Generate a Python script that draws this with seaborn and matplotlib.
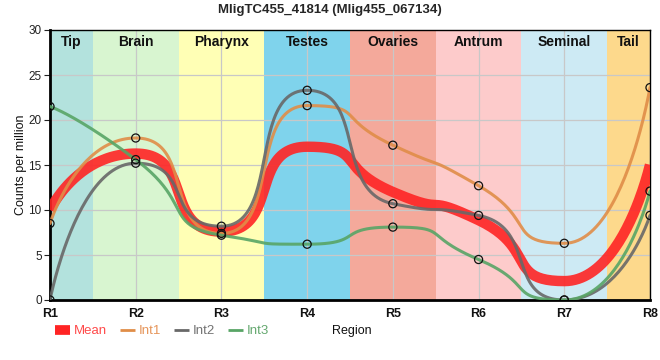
import numpy as np
import pandas as pd
import matplotlib
matplotlib.use("Agg")
import matplotlib.pyplot as plt
from matplotlib.lines import Line2D
import seaborn as sns

regions = ["R1", "R2", "R3", "R4", "R5", "R6", "R7", "R8"]
int1 = [8.5, 18.0, 7.4, 21.6, 17.2, 12.7, 6.3, 23.6]
int2 = [0.0, 15.2, 8.2, 23.3, 10.7, 9.4, 0.0, 9.4]
int3 = [21.5, 15.6, 7.2, 6.2, 8.1, 4.5, 0.0, 12.1]
mean = list(np.round((np.array(int1) + np.array(int2) + np.array(int3)) / 3, 2))

tissues = ["Tip", "Brain", "Pharynx", "Testes", "Ovaries", "Antrum", "Seminal", "Tail"]
tissue_colors = ["#b3e2dd", "#d8f5d0", "#ffffb5", "#7fd3ec", "#f4a99b", "#fdcbcb", "#cdeaf4", "#fdd98c"]

series_colors = {"Mean": "#ff2424", "Int1": "#e08d48", "Int2": "#686868", "Int3": "#58a566"}
legend_colors = {"Mean": "#ff4a4a", "Int1": "#e6955a", "Int2": "#737373", "Int3": "#64a86f"}


def spline_path(xs, ys, sm=0.45, n=50):
    # bezier spline, control points clamped so extremes stay flat
    xs = np.asarray(xs, float)
    ys = np.asarray(ys, float)
    k = len(xs)
    lc = [None] * k
    rc = [None] * k
    for i in range(1, k - 1):
        x, y = xs[i], ys[i]
        lx, ly = (sm * x + xs[i - 1]) / (sm + 1), (sm * y + ys[i - 1]) / (sm + 1)
        rx, ry = (sm * x + xs[i + 1]) / (sm + 1), (sm * y + ys[i + 1]) / (sm + 1)
        corr = (ry - ly) * (rx - x) / (rx - lx) + y - ry
        ly += corr
        ry += corr
        if ly > ys[i - 1] and ly > y:
            ly = max(ys[i - 1], y)
            ry = 2 * y - ly
        elif ly < ys[i - 1] and ly < y:
            ly = min(ys[i - 1], y)
            ry = 2 * y - ly
        if ry > ys[i + 1] and ry > y:
            ry = max(ys[i + 1], y)
            ly = 2 * y - ry
        elif ry < ys[i + 1] and ry < y:
            ry = min(ys[i + 1], y)
            ly = 2 * y - ry
        lc[i] = (lx, ly)
        rc[i] = (rx, ry)
    out_x, out_y = [], []
    for i in range(1, k):
        p0 = (xs[i - 1], ys[i - 1])
        p1 = rc[i - 1] if rc[i - 1] is not None else p0
        p3 = (xs[i], ys[i])
        p2 = lc[i] if lc[i] is not None else p3
        u = np.linspace(0, 1, n, endpoint=(i == k - 1))
        b0, b1, b2, b3 = (1 - u) ** 3, 3 * (1 - u) ** 2 * u, 3 * (1 - u) * u ** 2, u ** 3
        out_x.extend(b0 * p0[0] + b1 * p1[0] + b2 * p2[0] + b3 * p3[0])
        out_y.extend(b0 * p0[1] + b1 * p1[1] + b2 * p2[1] + b3 * p3[1])
    return np.array(out_x), np.array(out_y)


sns.set_theme(style="white")
plt.rcParams["font.family"] = ["Liberation Sans", "DejaVu Sans"]

fig = plt.figure(figsize=(6.6, 3.6), dpi=100)
ax = fig.add_axes([50 / 660, 60 / 360, 600 / 660, 270 / 360])

xpos = np.arange(len(regions))
last = len(regions) - 1
for i, (name, col) in enumerate(zip(tissues, tissue_colors)):
    a, b = max(i - 0.5, 0), min(i + 0.5, last)
    ax.axvspan(a, b, color=col, lw=0, zorder=0)
    ax.text((a + b) / 2, 28.7, name, ha="center", va="center", fontsize=10,
            fontweight="bold", color="#111111", zorder=5)

for xv in xpos:
    ax.axvline(xv, color="#c8c8c8", lw=0.9, zorder=1)
for yv in range(5, 30, 5):
    ax.axhline(yv, color="#c8c8c8", lw=0.9, zorder=1)

all_series = {"Mean": mean, "Int1": int1, "Int2": int2, "Int3": int3}
for name, vals in all_series.items():
    sx, sy = spline_path(xpos, vals)
    df = pd.DataFrame({"x": sx, "y": sy})
    if name == "Mean":
        sns.lineplot(data=df, x="x", y="y", ax=ax, color=series_colors[name], lw=7.5,
                     alpha=0.9, sort=False, zorder=3, solid_capstyle="butt")
    else:
        sns.lineplot(data=df, x="x", y="y", ax=ax, color=series_colors[name], lw=2.2,
                     alpha=0.9, sort=False, zorder=3)

for name in ["Int1", "Int2", "Int3"]:
    pts = pd.DataFrame({"x": xpos, "y": all_series[name]})
    sns.scatterplot(data=pts, x="x", y="y", ax=ax, s=34, facecolor="none",
                    edgecolor="#111111", linewidth=0.9, zorder=4)

ax.set_xlim(0, last)
ax.set_ylim(0, 30)
ax.set_xticks(xpos)
ax.set_xticklabels(regions, fontsize=9, fontweight="bold", color="#111111")
ax.set_yticks(range(0, 31, 5))
ax.tick_params(axis="y", labelsize=8.5, length=4, width=0.8, colors="#222222", left=True, pad=2)
ax.tick_params(axis="x", length=0, pad=6)
ax.set_xlabel("")
ax.set_ylabel("Counts per million", fontsize=9, color="#111111", labelpad=1)

for side in ["left", "bottom"]:
    ax.spines[side].set_linewidth(2)
    ax.spines[side].set_color("black")
for side in ["top", "right"]:
    ax.spines[side].set_linewidth(1)
    ax.spines[side].set_color("black")
ax.grid(False)

fig.text(330 / 660, 1 - 10 / 360, "MligTC455_41814 (Mlig455_067134)", ha="center", va="center",
         fontsize=9.5, fontweight="bold")
fig.text(352 / 660, 1 - 331 / 360, "Region", ha="center", va="center", fontsize=9, color="#111111")

handles = [Line2D([], [], color=series_colors["Mean"], lw=7, solid_capstyle="butt"),
           Line2D([], [], color=series_colors["Int1"], lw=2, solid_capstyle="butt"),
           Line2D([], [], color=series_colors["Int2"], lw=2, solid_capstyle="butt"),
           Line2D([], [], color=series_colors["Int3"], lw=2, solid_capstyle="butt")]
leg = fig.legend(handles, list(all_series.keys()), loc="center left",
                 bbox_to_anchor=(55 / 660, 1 - 331 / 360), ncol=4, frameon=False,
                 fontsize=9.5, handlelength=1.15, handletextpad=0.3, columnspacing=0.95,
                 borderaxespad=0, borderpad=0)
for txt, name in zip(leg.get_texts(), all_series.keys()):
    txt.set_color(legend_colors[name])

fig.savefig("out.png", dpi=100)
